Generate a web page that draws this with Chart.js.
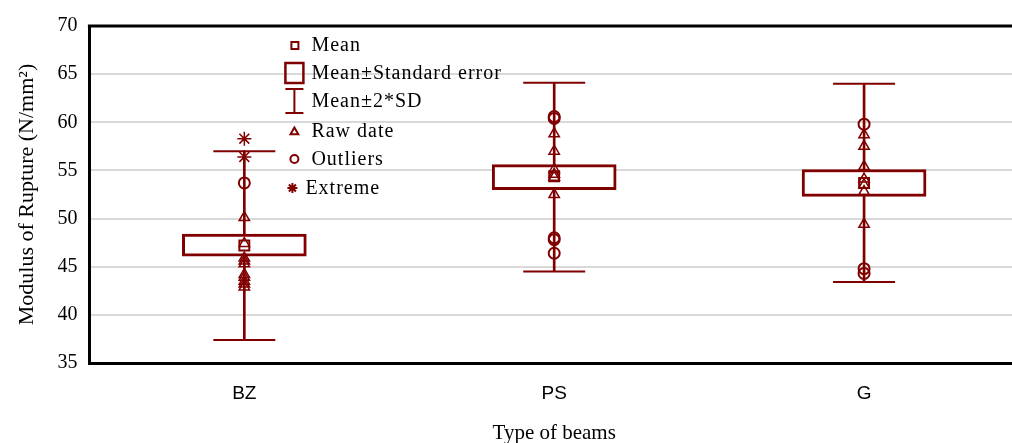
<!DOCTYPE html>
<html>
<head>
<meta charset="utf-8">
<script src="https://cdn.jsdelivr.net/npm/chart.js@4"></script>
<style>
  html, body { margin: 0; padding: 0; background: #fff; overflow: hidden; }
  #wrap { width: 1030px; height: 443px; }
</style>
</head>
<body>
<div id="wrap"><canvas id="boxChart" width="1030" height="443"></canvas></div>
<script>
// values
const categories = ['BZ', 'PS', 'G'];
const meanVals = [47.2, 54.4, 53.7];
const seLow = [46.1, 53.0, 52.3];
const seHigh = [48.4, 55.6, 55.1];
const sdLow = [37.4, 44.5, 43.4];
const sdHigh = [57.0, 64.1, 64.0];

const rawBZ = [50.1, 47.4, 45.9, 45.6, 45.3, 44.2, 43.9, 43.5, 43.2, 42.9];
const rawPS = [58.8, 57.0, 55.1, 54.6, 54.3, 52.5];
const rawG = [58.7, 57.5, 55.4, 54.1, 53.5, 52.8, 49.4];

const outBZ = [53.7];
const outPS = [60.6, 60.4, 48.0, 47.8, 46.4];
const outG = [59.8, 44.8, 44.3];

const extBZ = [58.3, 56.4];

const yTicks = [35, 40, 45, 50, 55, 60, 65, 70];
const legendItems = ['Mean', 'Mean\u00B1Standard error', 'Mean\u00B12*SD', 'Raw date', 'Outliers', 'Extreme'];

const RED = '#800000';
const SERIF = "'Liberation Serif', 'Times New Roman', serif";
const SANS = "'Liberation Sans', Arial, sans-serif";

const toPoints = (cat, vals) => vals.map(v => ({ x: cat, y: v }));

// draws the legend block and the top frame line
const extrasPlugin = {
  id: 'extras',
  afterDraw(chart) {
    const { ctx, chartArea } = chart;
    ctx.save();
    ctx.strokeStyle = '#000';
    ctx.lineWidth = 3;
    ctx.beginPath();
    ctx.moveTo(chartArea.left - 1.5, chartArea.top);
    ctx.lineTo(chartArea.right, chartArea.top);
    ctx.stroke();

    const mx = chartArea.left + 205;
    const tx = chartArea.left + 222;
    const rows = [19, 47, 75, 105, 133, 162];
    ctx.font = '20px ' + SERIF;
    ctx.letterSpacing = '1px';
    ctx.fillStyle = '#000';
    ctx.textBaseline = 'middle';
    rows.forEach((dy, i) => {
      const y = chartArea.top + dy;
      ctx.fillText(legendItems[i], i === 5 ? tx - 6 : tx, y + 1);
    });

    ctx.strokeStyle = RED;
    ctx.lineWidth = 2;
    const y0 = chartArea.top;
    // mean
    ctx.strokeRect(mx - 3, y0 + rows[0] - 3, 7, 7);
    // mean +- se
    ctx.lineWidth = 2.5;
    ctx.strokeRect(mx - 9, y0 + rows[1] - 10, 18, 20);
    // mean +- 2sd
    ctx.lineWidth = 2;
    ctx.beginPath();
    ctx.moveTo(mx - 9, y0 + rows[2] - 12); ctx.lineTo(mx + 9, y0 + rows[2] - 12);
    ctx.moveTo(mx, y0 + rows[2] - 12); ctx.lineTo(mx, y0 + rows[2] + 12);
    ctx.moveTo(mx - 9, y0 + rows[2] + 12); ctx.lineTo(mx + 9, y0 + rows[2] + 12);
    ctx.stroke();
    const markerOpts = (style, r) => ({ pointStyle: style, radius: r, borderWidth: 1.5, rotation: 0 });
    ctx.fillStyle = 'rgba(0,0,0,0)';
    Chart.helpers.drawPoint(ctx, markerOpts('triangle', 4.5), mx, y0 + rows[3] + 1);
    Chart.helpers.drawPoint(ctx, markerOpts('circle', 4), mx, y0 + rows[4]);
    Chart.helpers.drawPoint(ctx, markerOpts('star', 5), mx - 2, y0 + rows[5]);
    ctx.restore();
  }
};

const ctx = document.getElementById('boxChart').getContext('2d');

new Chart(ctx, {
  data: {
    labels: categories,
    datasets: [
      {
        type: 'bar',
        label: 'Mean±2*SD',
        data: categories.map((c, i) => [sdLow[i], sdHigh[i]]),
        backgroundColor: RED,
        borderWidth: 0,
        barThickness: 2,
        grouped: false,
        order: 10
      },
      {
        type: 'bar',
        label: 'Mean±Standard error',
        data: categories.map((c, i) => [seLow[i], seHigh[i]]),
        backgroundColor: '#fff',
        borderColor: RED,
        borderWidth: 3,
        borderSkipped: false,
        barThickness: 124,
        grouped: false,
        order: 9
      },
      {
        type: 'line',
        label: 'caps high',
        data: sdHigh,
        showLine: false,
        pointStyle: 'line',
        pointRadius: 31,
        pointBorderWidth: 2,
        borderColor: RED,
        order: 8
      },
      {
        type: 'line',
        label: 'caps low',
        data: sdLow,
        showLine: false,
        pointStyle: 'line',
        pointRadius: 31,
        pointBorderWidth: 2,
        borderColor: RED,
        order: 8
      },
      {
        type: 'line',
        label: 'Raw date',
        data: [...toPoints('BZ', rawBZ), ...toPoints('PS', rawPS), ...toPoints('G', rawG)],
        showLine: false,
        pointStyle: 'triangle',
        pointRadius: 6,
        pointBorderWidth: 1.5,
        borderColor: RED,
        pointBackgroundColor: 'rgba(0,0,0,0)',
        order: 3
      },
      {
        type: 'line',
        label: 'Outliers',
        data: [...toPoints('BZ', outBZ), ...toPoints('PS', outPS), ...toPoints('G', outG)],
        showLine: false,
        pointStyle: 'circle',
        pointRadius: 5.5,
        pointBorderWidth: 2,
        borderColor: RED,
        pointBackgroundColor: 'rgba(0,0,0,0)',
        order: 2
      },
      {
        type: 'line',
        label: 'Extreme',
        data: toPoints('BZ', extBZ),
        showLine: false,
        pointStyle: 'star',
        pointRadius: 7,
        pointBorderWidth: 1.5,
        borderColor: RED,
        order: 2
      },
      {
        type: 'line',
        label: 'Mean',
        data: meanVals,
        showLine: false,
        pointStyle: 'rect',
        pointRadius: 7,
        pointBorderWidth: 2,
        borderColor: RED,
        pointBackgroundColor: 'rgba(0,0,0,0)',
        order: 1
      }
    ]
  },
  options: {
    responsive: false,
    animation: false,
    events: [],
    layout: { autoPadding: false, padding: { left: 8, right: 11, top: 26, bottom: 0 } },
    plugins: {
      legend: { display: false },
      tooltip: { enabled: false }
    },
    scales: {
      x: {
        type: 'category',
        offset: true,
        grid: { display: false, drawTicks: false },
        border: { display: true, color: '#000', width: 3 },
        ticks: {
          color: '#000',
          padding: 19,
          font: { family: SANS, size: 19 }
        },
        title: {
          display: true,
          text: 'Type of beams',
          color: '#000',
          font: { family: SERIF, size: 21 },
          padding: { top: -3, bottom: -3 }
        }
      },
      y: {
        min: 35,
        max: 70,
        afterBuildTicks: (axis) => { axis.ticks = yTicks.map(v => ({ value: v })); },
        grid: { color: '#d9d9d9', lineWidth: 2, drawTicks: false },
        border: { display: true, color: '#000', width: 3 },
        ticks: {
          color: '#000',
          padding: 12,
          font: { family: SERIF, size: 20 }
        },
        title: {
          display: true,
          text: 'Modulus of Rupture (N/mm\u00B2)',
          color: '#000',
          font: { family: SERIF, size: 22 },
          padding: { top: 6, bottom: 5 }
        }
      }
    }
  },
  plugins: [extrasPlugin]
});
</script>
</body>
</html>
